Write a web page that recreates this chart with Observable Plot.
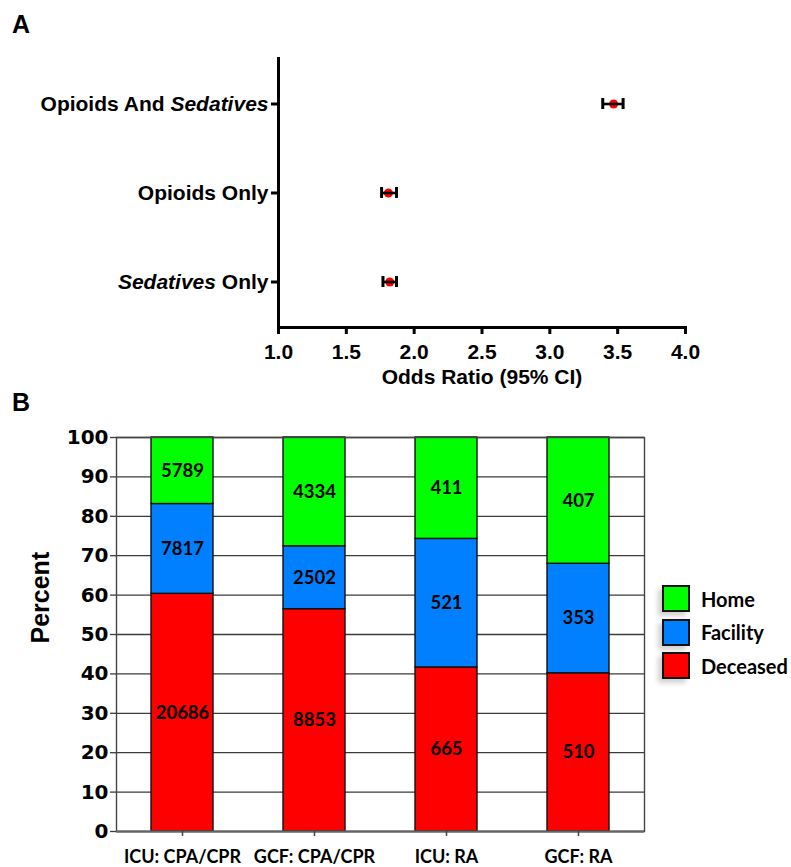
<!DOCTYPE html>
<html><head><meta charset="utf-8">
<script src="https://cdn.jsdelivr.net/npm/d3@7"></script>
<script src="https://cdn.jsdelivr.net/npm/@observablehq/plot@0.6"></script>
<style>
body{margin:0;background:#fff;}
#root{position:relative;width:791px;height:867px;overflow:hidden;background:#fff;}
#root svg{position:absolute;left:0;}
.tag{position:absolute;font:bold 25px "Liberation Sans",Arial,sans-serif;line-height:1;color:#000;}
#legend{position:absolute;left:662px;top:585px;font:bold 20px Lato,sans-serif;color:#000;}
.row{display:flex;align-items:center;height:27px;margin-bottom:6.5px;}
.sw{box-sizing:border-box;width:28px;height:27px;border:2px solid #111;box-shadow:-4px 4px 5px rgba(0,0,0,0.18);margin-right:11px;}
</style></head><body><div id="root"></div>
<script>
// ---- Panel A data (odds ratios, 95% CI) ----
const orLabels = ["Opioids And Sedatives", "Opioids Only", "Sedatives Only"];
const orEstimate = [3.47, 1.81, 1.82];
const orLower = [3.39, 1.76, 1.77];
const orUpper = [3.54, 1.87, 1.87];
const orTicks = [1.0, 1.5, 2.0, 2.5, 3.0, 3.5, 4.0];

// ---- Panel B data (counts per outcome) ----
const groups = ["ICU: CPA/CPR", "GCF: CPA/CPR", "ICU: RA", "GCF: RA"];
const outcomes = ["Deceased", "Facility", "Home"];
const deceased = [20686, 8853, 665, 510];
const facility = [7817, 2502, 521, 353];
const home = [5789, 4334, 411, 407];
const outcomeColors = ["#ff0000", "#0080ff", "#00ff00"];
const percentTicks = [0, 10, 20, 30, 40, 50, 60, 70, 80, 90, 100];

const root = document.getElementById("root");

// ---------- Panel A ----------
const orData = orLabels.map((label, i) => ({label, est: orEstimate[i], lo: orLower[i], hi: orUpper[i]}));
const fA = '"Liberation Sans", Arial, sans-serif';
const plotA = Plot.plot({
  width: 791, height: 400,
  marginTop: 58, marginBottom: 73, marginLeft: 278, marginRight: 106,
  style: {fontFamily: fA, fontSize: "21px", fontWeight: "bold", color: "#000", background: "transparent"},
  x: {domain: [1, 4], label: null},
  y: {type: "band", domain: orLabels, padding: 0, label: null},
  marks: [
    Plot.frame({anchor: "left", strokeWidth: 3, stroke: "#000"}),
    Plot.frame({anchor: "bottom", strokeWidth: 3, stroke: "#000"}),
    Plot.axisX({ticks: orTicks, tickFormat: d3.format(".1f"), tickSize: 7, tickPadding: 10, strokeWidth: 3,
      label: null, fontFamily: fA, fontSize: 21, fontWeight: "bold"}),
    Plot.axisY({tickSize: 7, tickPadding: 3, strokeWidth: 3, label: null,
      fontFamily: fA, fontSize: 21, fontWeight: "bold"}),
    Plot.dot(orData, {x: "est", y: "label", r: 4.5, fill: "#ff0000", stroke: "none"}),
    Plot.ruleY(orData, {y: "label", x1: "lo", x2: "hi", strokeWidth: 2.6, stroke: "#000"}),
    Plot.tickX(orData, {x: "lo", y: "label", strokeWidth: 3, insetTop: 39, insetBottom: 39}),
    Plot.tickX(orData, {x: "hi", y: "label", strokeWidth: 3, insetTop: 39, insetBottom: 39}),
    Plot.text(["Odds Ratio (95% CI)"], {text: d => d, frameAnchor: "bottom", dy: 56,
      fontFamily: fA, fontSize: 21, fontWeight: "bold"})
  ]
});
plotA.style.top = "0px";
d3.select(plotA).selectAll('g[aria-label="y-axis tick label"] text').each(function () {
  const t = this.textContent;
  if (t.includes("Sedatives")) {
    const parts = t.split(/(Sedatives)/).filter(p => p);
    const sel = d3.select(this);
    sel.text(null);
    parts.forEach(p => sel.append("tspan").attr("font-style", p === "Sedatives" ? "italic" : null).text(p));
  }
});
root.appendChild(plotA);

// ---------- Panel B ----------
const tidy = [];
groups.forEach((g, i) => {
  const counts = [deceased[i], facility[i], home[i]];
  const total = d3.sum(counts);
  outcomes.forEach((o, j) => tidy.push({group: g, outcome: o, count: counts[j], pct: counts[j] / total * 100}));
});
const fTick = '"DejaVu Sans", sans-serif';
const fLato = 'Lato, "Open Sans", sans-serif';
const plotB = Plot.plot({
  width: 791, height: 467,
  marginTop: 37, marginBottom: 36, marginLeft: 116, marginRight: 147,
  style: {fontFamily: fLato, fontWeight: "bold", color: "#000", background: "transparent"},
  x: {domain: groups, paddingInner: 0.53, paddingOuter: 0.265, label: null},
  y: {domain: [0, 100], label: null},
  color: {domain: outcomes, range: outcomeColors},
  marks: [
    Plot.ruleY(percentTicks, {stroke: "#3c3c3c", strokeWidth: 1.3}),
    Plot.barY(tidy, {x: "group", y: "pct", fill: "outcome", stroke: "#111", strokeWidth: 1.4, order: outcomes}),
    Plot.frame({stroke: "#444", strokeWidth: 1.4}),
    Plot.ruleY([0], {stroke: "#666", strokeWidth: 2}),
    Plot.axisY({ticks: percentTicks, tickSize: 6, tickPadding: 2, stroke: "#3c3c3c", strokeWidth: 1.3, label: null,
      fontFamily: fTick, fontSize: 20, fontWeight: "bold"}),
    Plot.axisX({tickSize: 5, tickPadding: 14, stroke: "#444", strokeWidth: 1.5, label: null,
      fontFamily: fLato, fontSize: 18, fontWeight: "bold"}),
    Plot.text(tidy, Plot.stackY({x: "group", y: "pct", z: "outcome", order: outcomes, text: d => String(d.count),
      fontFamily: fLato, fontSize: 18.5, fontWeight: "bold", fill: "#000"})),
    Plot.text(["Percent"], {text: d => d, frameAnchor: "left", rotate: -90, dx: -76, dy: 9,
      fontFamily: fA, fontSize: 25, fontWeight: "bold"})
  ]
});
plotB.style.top = "400px";
root.appendChild(plotB);

// ---------- Panel tags & legend ----------
const tagA = document.createElement("div");
tagA.className = "tag"; tagA.textContent = "A";
tagA.style.left = "12px"; tagA.style.top = "12px";
root.appendChild(tagA);
const tagB = document.createElement("div");
tagB.className = "tag"; tagB.textContent = "B";
tagB.style.left = "12px"; tagB.style.top = "390px";
root.appendChild(tagB);

const legend = document.createElement("div");
legend.id = "legend";
outcomes.slice().reverse().forEach(o => {
  const row = document.createElement("div");
  row.className = "row";
  const sw = document.createElement("div");
  sw.className = "sw";
  sw.style.background = outcomeColors[outcomes.indexOf(o)];
  const lab = document.createElement("span");
  lab.textContent = o;
  row.appendChild(sw); row.appendChild(lab);
  legend.appendChild(row);
});
root.appendChild(legend);
</script>
</body></html>
